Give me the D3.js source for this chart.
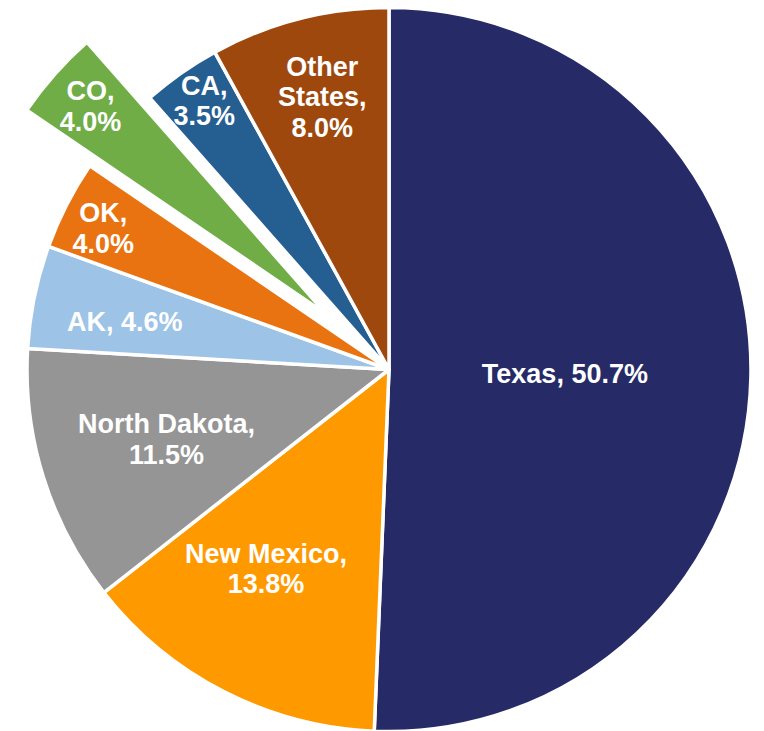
<!DOCTYPE html>
<html>
<head>
<meta charset="utf-8">
<script src="https://cdn.jsdelivr.net/npm/d3@7"></script>
<style>
  body { margin: 0; background: #fff; }
  svg { display: block; }
</style>
</head>
<body>
<script>
var width = 764;
var height = 731;

// data, clockwise from 12 o'clock
const states = ["Texas", "New Mexico", "North Dakota", "AK", "OK", "CO", "CA", "Other States"];
const shares = [50.7, 13.8, 11.5, 4.6, 4.0, 4.0, 3.5, 8.0];
const colors = ["#262a66", "#ff9900", "#959595", "#9dc3e6", "#e97311", "#70ad47", "#255e91", "#9e480e"];

// label layout (not data): line split, radius fraction, angle nudge in degrees
const nameLines = [["Texas"], ["New Mexico"], ["North Dakota"], ["AK"], ["OK"], ["CO"], ["CA"], ["Other", "States"]];
const oneLine = [true, false, false, true, false, false, false, false];
const labelR = [0.486, 0.646, 0.644, 0.742, 0.881, 0.868, 0.902, 0.775];
const labelNudge = [0, 4.6, 0, -1.3, -0.7, 0, 0.6, 0.6];
const exploded = "CO";

var cx = 389, cy = 369.5, r = 362;
var explodeDist = 84;

var svg = d3.select('body').append('svg').attr('width', width).attr('height', height);
var g = svg.append('g').attr('transform', 'translate(' + cx + ',' + cy + ')');

let rows = states.map(function (s, i) { return { name: s, value: shares[i], i: i }; });

var pie = d3.pie().sort(null).value(function (d) { return d.value; });
var arcs = pie(rows);

var arc = d3.arc().innerRadius(0).outerRadius(r);

function shift(d) {
  if (d.data.name != exploded) return [0, 0];
  let a = (d.startAngle + d.endAngle) / 2;
  return [Math.sin(a) * explodeDist, -Math.cos(a) * explodeDist];
}

var slice = g.selectAll('g.slice')
  .data(arcs)
  .enter().append('g')
  .attr('class', 'slice')
  .attr('transform', function (d) { let s = shift(d); return 'translate(' + s[0] + ',' + s[1] + ')'; });

slice.append('path')
  .attr('d', arc)
  .attr('fill', function (d) { return colors[d.data.i]; })
  .attr('stroke', '#fff')
  .attr('stroke-width', 3.5)
  .attr('stroke-linejoin', 'round');

var fontSize = 27, lineH = 30.5;

slice.each(function (d) {
  let i = d.data.i;
  let rad = r * labelR[i];
  let a = (d.startAngle + d.endAngle) / 2 + labelNudge[i] * Math.PI / 180;
  let x = Math.sin(a) * rad;
  let y = -Math.cos(a) * rad;
  let pct = d.data.value.toFixed(1) + '%';
  let lines;
  if (oneLine[i]) {
    lines = [nameLines[i].join(' ') + ', ' + pct];
  } else {
    lines = nameLines[i].slice();
    lines[lines.length - 1] += ',';
    lines.push(pct);
  }
  let t = d3.select(this).append('text')
    .attr('x', x)
    .attr('y', y)
    .attr('text-anchor', 'middle')
    .attr('font-family', '"Liberation Sans", Arial, sans-serif')
    .attr('font-weight', 'bold')
    .attr('font-size', fontSize)
    .attr('fill', '#fff');
  let y0 = -(lines.length - 1) * lineH / 2;
  lines.forEach(function (ln, k) {
    t.append('tspan')
      .attr('x', x)
      .attr('y', y + y0 + k * lineH)
      .attr('dy', '0.35em')
      .text(ln);
  });
});
</script>
</body>
</html>
